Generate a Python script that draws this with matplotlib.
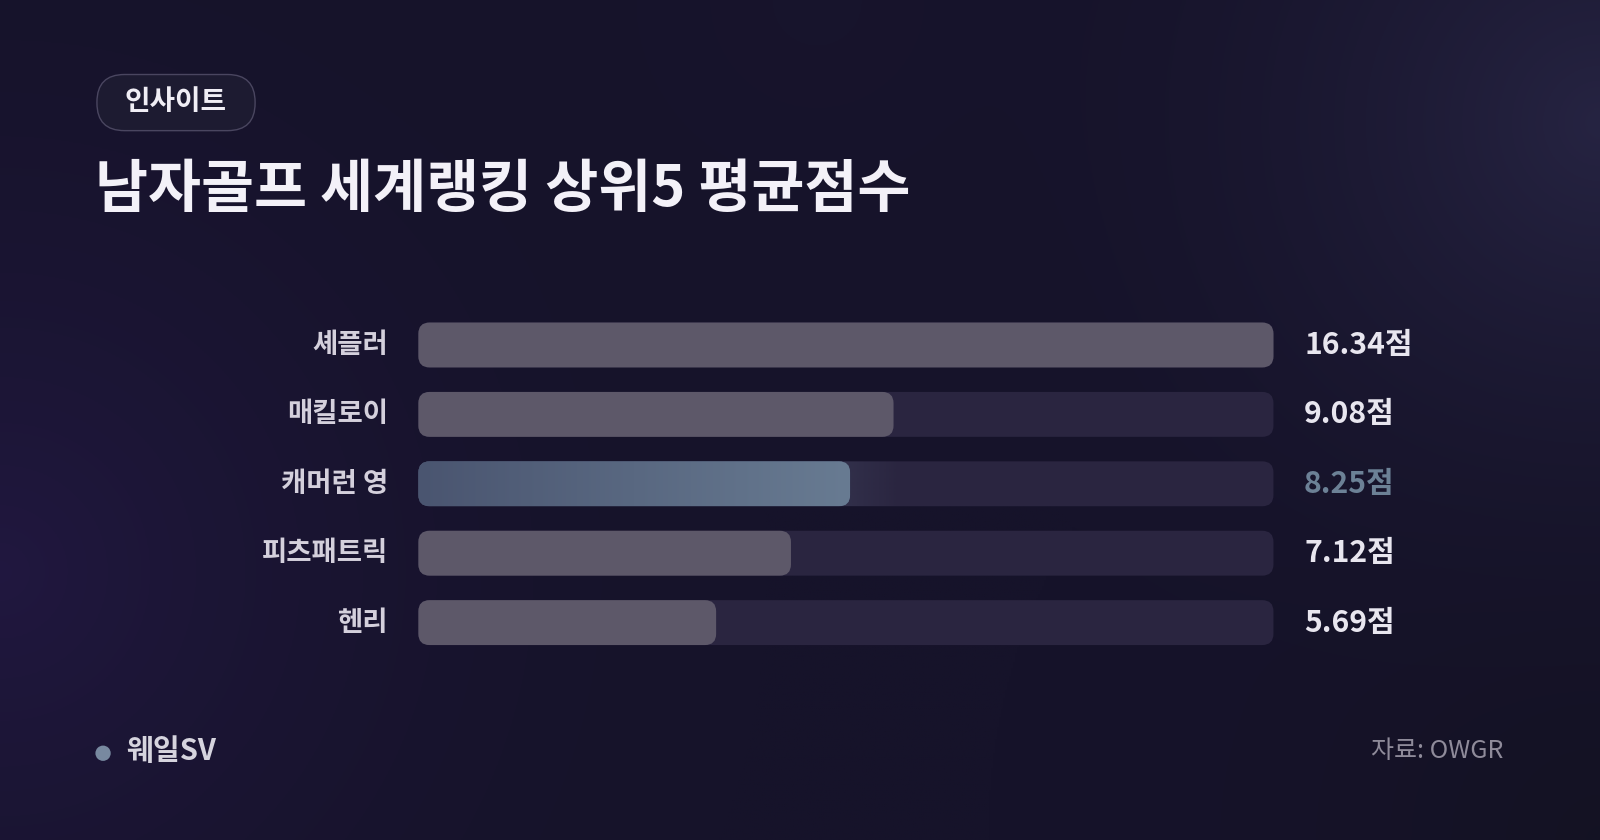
import numpy as np
import matplotlib
matplotlib.use("Agg")
import matplotlib.pyplot as plt
from matplotlib.patches import FancyBboxPatch, Circle
from matplotlib.colors import to_rgb

plt.rcParams['font.family'] = ['Noto Sans CJK KR', 'DejaVu Sans']

# data
players = ["셰플러", "매킬로이", "캐머런 영", "피츠패트릭", "헨리"]
scores = [16.34, 9.08, 8.25, 7.12, 5.69]
highlight = "캐머런 영"
badge = "인사이트"
title = "남자골프 세계랭킹 상위5 평균점수"
brand = "웨일SV"
source = "자료: OWGR"

W, H = 1568, 823  # layout units (reference pixels)

fig = plt.figure(figsize=(16, 8.4), dpi=100)

# background
bg_ax = fig.add_axes([0, 0, 1, 1])
bg_ax.set_xlim(0, W)
bg_ax.set_ylim(H, 0)
bg_ax.axis("off")

yy, xx = np.mgrid[0:H:2, 0:W:2]
img = np.zeros(xx.shape + (3,))
img[:] = to_rgb("#16132a")


def glow(cx, cy, r, col, strength):
    d = np.sqrt((xx - cx) ** 2 + (yy - cy) ** 2) / r
    a = np.clip(1 - d, 0, 1) ** 2 * strength
    c = np.array(to_rgb(col))
    return a[..., None], c


for cx, cy, r, col, s in [
    (0, 560, 750, "#221842", 0.9),
    (1568, 120, 650, "#2a2848", 0.8),
    (1568, 823, 600, "#131220", 0.7),
    (800, 0, 500, "#1a1630", 0.4),
]:
    a, c = glow(cx, cy, r, col, s)
    img = img * (1 - a) + c * a

bg_ax.imshow(img, extent=[0, W, H, 0], aspect="auto", zorder=0)

# badge
pill = FancyBboxPatch((95, 73), 155, 55, boxstyle="round,pad=0,rounding_size=27",
                      facecolor="#1d1b31", edgecolor="#4a4660", linewidth=1.0, zorder=2)
bg_ax.add_patch(pill)
bg_ax.text(172, 100, badge, ha="center", va="center", fontsize=20,
           fontweight="bold", color="#f0eef5", zorder=3)

# title
bg_ax.text(93, 186, title, ha="left", va="center", fontsize=41.5,
           fontweight="bold", color="#f3f1f8", zorder=3)

# footer
bg_ax.add_patch(Circle((101, 738), 7.5, facecolor="#7889a0", edgecolor="none", zorder=3))
bg_ax.text(124, 736, brand, ha="left", va="center", fontsize=21,
           fontweight="bold", color="#d6d4de", zorder=3)
bg_ax.text(1473, 736, source, ha="right", va="center", fontsize=18,
           color="#8f8b9a", zorder=3)

# bar area
x0, x1 = 410, 1248
row_top, row_h = 304, 68
ax = fig.add_axes([x0 / W, 1 - (row_top + row_h * len(players)) / H,
                   (x1 - x0) / W, row_h * len(players) / H])
ax.set_facecolor("none")
vmax = max(scores)
ax.set_xlim(0, vmax)
ax.set_ylim(len(players) - 0.5, -0.5)
ax.axis("off")

bar_h = 44 / row_h
px_x = vmax / (x1 - x0)
px_y = 1 / row_h
rad = 11 * px_x
aspect = px_y / px_x

for i, (name, val) in enumerate(zip(players, scores)):
    track = FancyBboxPatch((0, i - bar_h / 2), vmax, bar_h,
                           boxstyle="round,pad=0,rounding_size=%f" % rad,
                           mutation_aspect=aspect, facecolor="#2a2540",
                           edgecolor="none", zorder=1, clip_on=False)
    ax.add_patch(track)
    if name == highlight:
        c0 = np.array(to_rgb("#4a5570"))
        c1 = np.array(to_rgb("#687b92"))
        bar = FancyBboxPatch((0, i - bar_h / 2), val, bar_h,
                             boxstyle="round,pad=0,rounding_size=%f" % rad,
                             mutation_aspect=aspect, facecolor=c0,
                             edgecolor="none", zorder=2, clip_on=False)
        ax.add_patch(bar)
        t = np.linspace(0, 1, 256)[None, :, None]
        grad = c0 * (1 - t) + c1 * t
        im = ax.imshow(grad, extent=[0, val, i + bar_h / 2, i - bar_h / 2],
                       aspect="auto", zorder=2.1)
        im.set_clip_path(bar)
        # soft glow past the bar end
        ga = np.linspace(0.14, 0, 64)[None, :, None]
        gimg = np.concatenate([np.ones((1, 64, 3)) * c1, ga], axis=2)
        gl = ax.imshow(gimg, extent=[val - 12 * px_x, val + 50 * px_x,
                                     i + bar_h / 2, i - bar_h / 2],
                       aspect="auto", zorder=1.5)
        gl.set_clip_path(track)
        vcol = "#6c8196"
    else:
        bar = FancyBboxPatch((0, i - bar_h / 2), val, bar_h,
                             boxstyle="round,pad=0,rounding_size=%f" % rad,
                             mutation_aspect=aspect, facecolor="#5d5869",
                             edgecolor="none", zorder=2, clip_on=False)
        ax.add_patch(bar)
        vcol = "#e8e6ef"
    ax.text(-30 * px_x, i, name, ha="right", va="center", fontsize=19.8,
            fontweight="bold", color="#d4d0dc", clip_on=False)
    ax.text(vmax + 30 * px_x, i, "%.2f점" % val, ha="left", va="center",
            fontsize=21.7, fontweight="bold", color=vcol, clip_on=False)

ax.set_xlim(0, vmax)
ax.set_ylim(len(players) - 0.5, -0.5)

fig.savefig("out.png", dpi=100)
